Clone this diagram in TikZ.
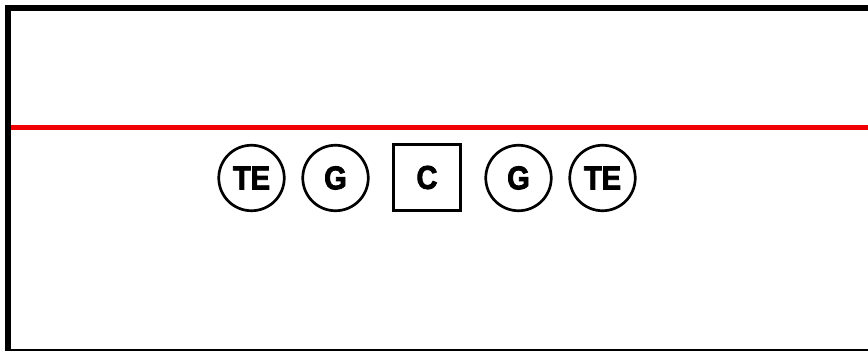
\documentclass[tikz,border=0pt]{standalone}
\usepackage{fontspec}
\usepackage{xcolor}
\newfontfamily\tagfont{Liberation Sans Bold}[FakeStretch=0.88,FakeBold=2.5]
\definecolor{frame}{RGB}{0,0,0}
\definecolor{rule}{RGB}{240,0,0}
\tikzset{
  roundtag/.style={circle, draw=frame, line width=2.7pt, minimum size=65.5pt, inner sep=0pt, font=\tagfont\fontsize{33}{35}\selectfont},
  squaretag/.style={rectangle, draw=frame, line width=3.2pt, minimum size=66.5pt, inner sep=0pt, font=\tagfont\fontsize{33}{35}\selectfont}
}

\begin{document}
\begin{tikzpicture}[x=1pt,y=1pt]
  \useasboundingbox (0,0) rectangle (868,351);
  \fill[white] (0,0) rectangle (868,351);

  % frame
  \fill[frame] (5,0) rectangle (11,346);
  \fill[frame] (5,340) rectangle (868,346);
  \fill[frame] (5,0) rectangle (868,2);
  \fill[rule] (11,221) rectangle (868,226);

  % tags
  \node[roundtag] (te1) at (251.5,173) {TE};
  \node[roundtag] (g1) at (335.5,173) {G};
  \node[squaretag] (c) at (427,173.5) {C};
  \node[roundtag] (g2) at (518.5,173) {G};
  \node[roundtag] (te2) at (602.5,173) {TE};

\end{tikzpicture}
\end{document}
